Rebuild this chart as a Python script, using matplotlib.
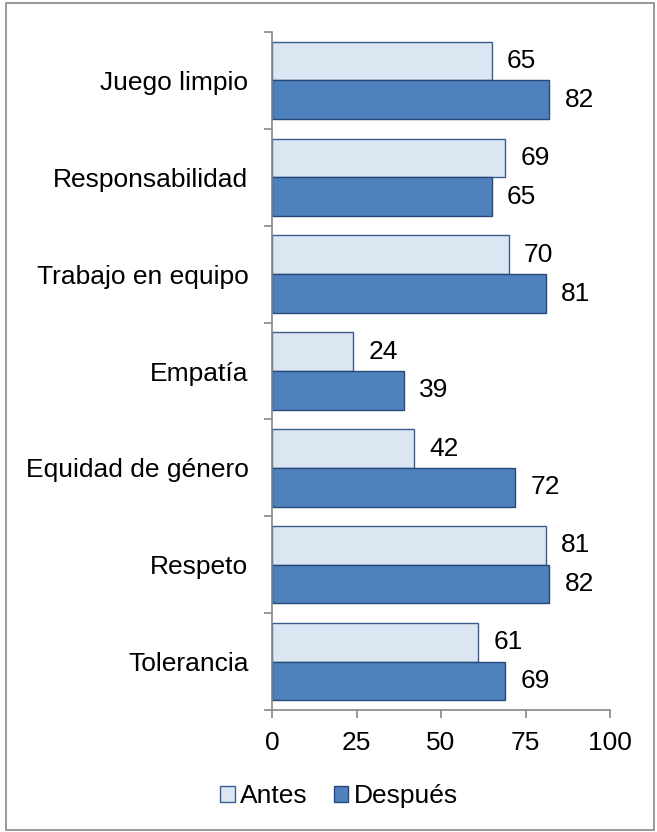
import numpy as np
import matplotlib
matplotlib.use("Agg")
import matplotlib.pyplot as plt
from matplotlib.patches import Rectangle

# datos
categorias = ["Juego limpio", "Responsabilidad", "Trabajo en equipo", "Empatía",
              "Equidad de género", "Respeto", "Tolerancia"]
antes = [65, 69, 70, 24, 42, 81, 61]
despues = [82, 65, 81, 39, 72, 82, 69]
ticks_x = [0, 25, 50, 75, 100]

plt.rcParams['font.family'] = ['Liberation Sans', 'DejaVu Sans']
fs = 19

fig = plt.figure(figsize=(6.57, 8.32), dpi=100)
ax = fig.add_axes([0.414, 0.1466, 0.5145, 0.8149])

pos = np.arange(len(categorias))
alto = 0.4
b1 = ax.barh(pos - alto / 2, antes, height=alto, color="#DCE6F2",
             edgecolor="#385D8A", linewidth=1.0, label="Antes")
b2 = ax.barh(pos + alto / 2, despues, height=alto, color="#4F81BD",
             edgecolor="#254A7A", linewidth=1.0, label="Después")

for barras in (b1, b2):
    for r in barras:
        w = r.get_width()
        ax.annotate(str(int(w)), (w, r.get_y() + r.get_height() / 2),
                    xytext=(11, 0), textcoords="offset points",
                    va="center", ha="left", fontsize=fs)

ax.set_xlim(0, 100)
ax.set_ylim(len(categorias) - 0.5, -0.5)
ax.set_xticks(ticks_x)
ax.set_xticklabels([str(t) for t in ticks_x], fontsize=fs)
ax.set_yticks(np.arange(len(categorias) + 1) - 0.5)
ax.set_yticklabels([])
ax.set_yticks(pos, minor=True)
ax.set_yticklabels(categorias, minor=True, fontsize=fs)
ax.tick_params(axis="y", which="minor", length=0, pad=17)
ax.tick_params(axis="y", which="major", length=6, color="#888888", width=1.2)
ax.tick_params(axis="x", length=6, color="#888888", width=1.2, pad=9)

for lado in ("top", "right"):
    ax.spines[lado].set_visible(False)
for lado in ("left", "bottom"):
    ax.spines[lado].set_color("#888888")
    ax.spines[lado].set_linewidth(1.2)

fig.legend(handles=[b1, b2], loc="center", bbox_to_anchor=(0.516, 0.043),
           ncol=2, frameon=False, fontsize=fs, handlelength=0.55,
           handleheight=0.55, handletextpad=0.2, columnspacing=1.0)

fig.patches.append(Rectangle((6 / 657, 2 / 832), 648 / 657, 827 / 832,
                             transform=fig.transFigure, fill=False,
                             edgecolor="#888888", linewidth=1.2))

fig.savefig("out.png", dpi=100)
